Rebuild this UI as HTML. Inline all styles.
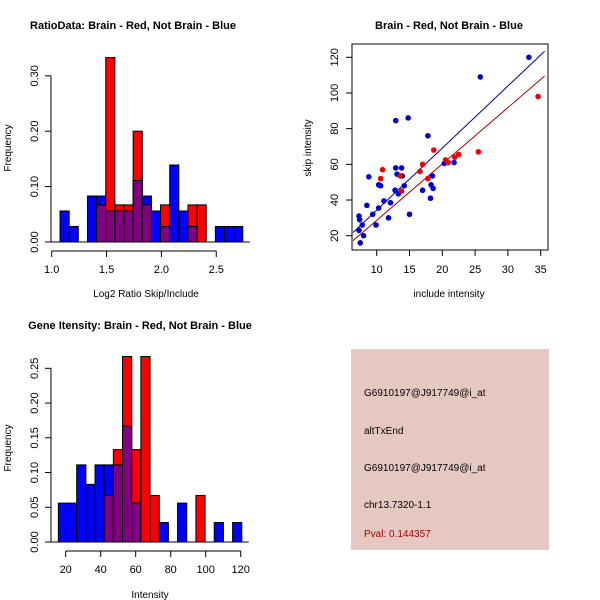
<!DOCTYPE html>
<html><head><meta charset="utf-8"><style>
body{margin:0;background:#fff}
svg{font-family:"Liberation Sans",sans-serif;display:block}
</style></head><body>
<svg id="c" width="600" height="600" xmlns="http://www.w3.org/2000/svg">
<text x="133" y="29" font-size="11" font-weight="bold" text-anchor="middle">RatioData: Brain - Red, Not Brain - Blue</text>
<text x="449" y="29" font-size="11" font-weight="bold" text-anchor="middle">Brain - Red, Not Brain - Blue</text>
<text x="140" y="329" font-size="11" font-weight="bold" text-anchor="middle">Gene Itensity: Brain - Red, Not Brain - Blue</text>
<text x="146" y="297" font-size="10" text-anchor="middle">Log2 Ratio Skip/Include</text>
<text x="449" y="297" font-size="10" text-anchor="middle">include intensity</text>
<text x="150" y="598" font-size="10" text-anchor="middle">Intensity</text>
<text transform="translate(11,148) rotate(-90)" font-size="10" text-anchor="middle">Frequency</text>
<text transform="translate(311,148) rotate(-90)" font-size="10" text-anchor="middle">skip intensity</text>
<text transform="translate(11,448) rotate(-90)" font-size="10" text-anchor="middle">Frequency</text>
<rect x="351" y="349" width="198" height="201" fill="#e6c8c2"/>
<g font-size="10">
<text x="364" y="396">G6910197@J917749@i_at</text>
<text x="364" y="434">altTxEnd</text>
<text x="364" y="471">G6910197@J917749@i_at</text>
<text x="364" y="508">chr13.7320-1.1</text>
<text x="364" y="537" fill="#990000">Pval: 0.144357</text>
</g>
</svg>
<script>
// Ratio histogram data
const ratioStart = 1.076, ratioBin = 0.0833;
const ratioBlue = [0.056,0.028,0,0.083,0.083,0.056,0.056,0.056,0.111,0.083,0.056,0.028,0.139,0.056,0.028,0,0,0.028,0.028,0.028];
const ratioRed  = [0,0,0,0,0.067,0.333,0.067,0.067,0.2,0.067,0,0.067,0,0,0.067,0.067,0,0,0,0];
const ratioXTicks = [1.0,1.5,2.0,2.5];
const ratioXLabels = ["1.0","1.5","2.0","2.5"];
const ratioYTicks = [0,0.1,0.2,0.3];
const ratioYLabels = ["0.00","0.10","0.20","0.30"];
// Intensity histogram data
const intStart = 15.8, intBin = 5.24;
const intBlue = [0.056,0.056,0.111,0.083,0.111,0.111,0.111,0.167,0.056,0,0,0.028,0,0.056,0,0,0,0.028,0,0.028];
const intRed  = [0,0,0,0,0,0.067,0.133,0.267,0.133,0.267,0.067,0,0,0,0,0.067,0,0,0,0];
const intXTicks = [20,40,60,80,100,120];
const intYTicks = [0,0.05,0.1,0.15,0.2,0.25];
const intYLabels = ["0.00","0.05","0.10","0.15","0.20","0.25"];
// Scatter data
const blueX = [7.3,7.5,7.4,7.3,7.8,8.0,8.5,8.8,9.4,9.9,10.3,10.3,10.6,11.1,11.8,12.1,12.8,12.9,12.9,13.1,13.3,13.8,13.9,14.2,14.8,15.0,17.0,17.8,18.2,18.3,18.5,18.6,20.3,21.8,25.8,33.2];
const blueY = [23,16,29,31,26,20,37,53,32,26,35.5,48.5,48,39.5,30,38.5,45.5,58,84.5,54.5,43.5,58,53.5,48,86,32,45.5,76,41,48.5,53.5,46.5,60.5,61,109,120];
const redX = [10.6,10.9,13.6,13.8,16.6,17.0,17.8,18.7,20.5,20.9,21.9,22.5,25.5,34.6];
const redY = [52,57,53.5,45,56,60,52,68,62.5,61,64,65.5,67,98];
const blueFit = [-0.5, 3.48]; // intercept, slope
const redFit = [-3.0, 3.16];
const scXTicks = [10,15,20,25,30,35];
const scYTicks = [20,40,60,80,100,120];

const svg = document.getElementById('c');
const NS = 'http://www.w3.org/2000/svg';
function mk(tag, attrs){const e=document.createElementNS(NS,tag);for(const k in attrs)e.setAttribute(k,attrs[k]);svg.appendChild(e);return e;}

function hist(o){
  const sx=v=>o.x0+(v-o.d0)*o.kx, sy=v=>o.y0-v*o.ky;
  for(let i=0;i<o.blue.length;i++){
    const a=o.start+i*o.bin, b=a+o.bin, bl=o.blue[i], rd=o.red[i];
    const x=sx(a), w=sx(b)-sx(a);
    if(rd>0){const e=mk('rect',{x:x,y:sy(rd),width:w,height:sy(0)-sy(rd),fill:'#ff0000',stroke:'#000','stroke-width':1});
      
      }
    if(bl>0){const e=mk('rect',{x:x,y:sy(bl),width:w,height:sy(0)-sy(bl),fill:'#0000ff',stroke:'#000','stroke-width':1});
      
      }
    const m=Math.min(bl,rd);
    if(m>0){const e=mk('rect',{x:x,y:sy(m),width:w,height:sy(0)-sy(m),fill:'#800080',stroke:'#000','stroke-width':1});
      
      }
  }
  const xa=mk('line',{x1:sx(o.xt[0]),x2:sx(o.xt[o.xt.length-1]),y1:o.xAxisY,y2:o.xAxisY,stroke:'#000'});
  
  
  o.xt.forEach((t,i)=>{
    mk('line',{x1:sx(t),x2:sx(t),y1:o.xAxisY,y2:o.xAxisY+6,stroke:'#000'});
    const tx=mk('text',{x:sx(t),y:o.xAxisY+22,'font-size':11,'text-anchor':'middle'});
    tx.textContent=o.xl[i];
    
    
  });
  const ya=mk('line',{x1:o.yAxisX,x2:o.yAxisX,y1:sy(o.yt[0]),y2:sy(o.yt[o.yt.length-1]),stroke:'#000'});
  
  
  o.yt.forEach((t,i)=>{
    mk('line',{x1:o.yAxisX-6,x2:o.yAxisX,y1:sy(t),y2:sy(t),stroke:'#000'});
    const tx=mk('text',{transform:`translate(${o.yAxisX-13},${sy(t)}) rotate(-90)`,'font-size':11,'text-anchor':'middle'});
    tx.textContent=o.yl[i];
    
    
  });
  mk('line',{x1:sx(o.start)-9,x2:sx(o.start+o.bin*o.blue.length)+7,y1:o.y0,y2:o.y0,stroke:'#000'});
}
hist({name:'ratio',blue:ratioBlue,red:ratioRed,start:ratioStart,bin:ratioBin,d0:1.0,x0:51.7,kx:109.7,y0:242,ky:554,
  xt:ratioXTicks,xl:ratioXLabels,yt:ratioYTicks,yl:ratioYLabels,xAxisY:251,yAxisX:51});
hist({name:'intensity',blue:intBlue,red:intRed,start:intStart,bin:intBin,d0:20,x0:65.7,kx:1.75,y0:542,ky:694.7,
  xt:intXTicks,xl:intXTicks.map(String),yt:intYTicks,yl:intYLabels,xAxisY:551,yAxisX:51});

const scx=v=>376.7+(v-10)*6.56, scy=v=>235.7-(v-20)*1.784;
const box=mk('rect',{x:352,y:44,width:196,height:206,fill:'none',stroke:'#000'});


scXTicks.forEach(t=>{
  mk('line',{x1:scx(t),x2:scx(t),y1:250,y2:256,stroke:'#000'});
  const tx=mk('text',{x:scx(t),y:273,'font-size':11,'text-anchor':'middle'});tx.textContent=t;
  
  
});
scYTicks.forEach(t=>{
  mk('line',{x1:346,x2:352,y1:scy(t),y2:scy(t),stroke:'#000'});
  const tx=mk('text',{transform:`translate(338,${scy(t)}) rotate(-90)`,'font-size':11,'text-anchor':'middle'});tx.textContent=t;
  
  
});
function fitLine(f,col,name){
  const x1=6.4,x2=35.6;
  const l=mk('line',{x1:scx(x1),y1:scy(f[0]+f[1]*x1),x2:scx(x2),y2:scy(f[0]+f[1]*x2),stroke:col,'stroke-width':1});
  
  
}
fitLine(blueFit,'#000099','blue-fit-line');
fitLine(redFit,'#b00000','red-fit-line');
blueX.forEach((x,i)=>{const c=mk('circle',{cx:scx(x),cy:scy(blueY[i]),r:2.8,fill:'#0000cc'});
  
  });
redX.forEach((x,i)=>{const c=mk('circle',{cx:scx(x),cy:scy(redY[i]),r:2.8,fill:'#ee0000'});
  
  });
</script>
</body></html>
